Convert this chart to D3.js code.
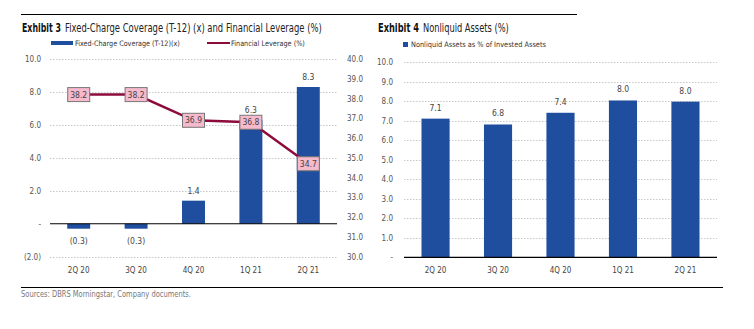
<!DOCTYPE html>
<html>
<head>
<meta charset="utf-8">
<script src="https://cdn.jsdelivr.net/npm/d3@7"></script>
<style>
  body { margin: 0; background: #fff; }
  svg text { font-family: "Liberation Sans Narrow", "DejaVu Sans Condensed", "Arial Narrow", sans-serif; }
</style>
</head>
<body>
<div id="chart"></div>
<script>
// chart data
var quarters = ["2Q 20", "3Q 20", "4Q 20", "1Q 21", "2Q 21"];
var coverage = [-0.3, -0.3, 1.4, 6.3, 8.3];
var leverage = [38.2, 38.2, 36.9, 36.8, 34.7];
var nonliquid = [7.1, 6.8, 7.4, 8.03, 7.97];
var coverageTicks = [-2, 0, 2, 4, 6, 8, 10];
var leverageTicks = [30, 31, 32, 33, 34, 35, 36, 37, 38, 39, 40];
var nonliquidTicks = [0, 1, 2, 3, 4, 5, 6, 7, 8, 9, 10];

var svgWidth = 754;
var svgHeight = 329;
var blue = "#1f4e9e";
var red = "#8c0b3b";

var fmt = d3.format(".1f");
function tickFmt(v) {
  if (v === 0) return "-";
  if (v < 0) return "(" + fmt(-v) + ")";
  return fmt(v);
}

var svg = d3.select("#chart")
  .append("svg")
  .attr("width", svgWidth)
  .attr("height", svgHeight);

// text squeezed horizontally to the width it has in the original (condensed face)
function label(x, y, w, size, str, weight, color) {
  var t = svg.append("text")
    .attr("font-size", size)
    .attr("font-weight", weight || "normal")
    .attr("fill", color || "#333")
    .text(str);
  var k = w / t.node().getComputedTextLength();
  t.attr("transform", "translate(" + x + "," + y + ") scale(" + k + ",1)");
  return t;
}

// rules top and bottom
svg.append("line").attr("x1", 21).attr("x2", 577).attr("y1", 14.5).attr("y2", 14.5)
  .attr("stroke", "#000").attr("stroke-width", 1);
svg.append("line").attr("x1", 21).attr("x2", 723).attr("y1", 287.5).attr("y2", 287.5)
  .attr("stroke", "#000").attr("stroke-width", 1);

label(21, 297, 170, 8.5, "Sources: DBRS Morningstar, Company documents.", null, "#777");

// ---------- Exhibit 3 ----------
label(22, 32, 39, 11.5, "Exhibit 3", "bold", "#111");
label(65, 32, 257, 11.5, "Fixed-Charge Coverage (T-12) (x) and Financial Leverage (%)", null, "#222");

svg.append("rect").attr("x", 51).attr("y", 41).attr("width", 22).attr("height", 4).attr("fill", blue);
label(75, 46, 105, 7.5, "Fixed-Charge Coverage (T-12)(x)");
svg.append("line").attr("x1", 207).attr("x2", 230).attr("y1", 43).attr("y2", 43)
  .attr("stroke", red).attr("stroke-width", 2);
label(231, 46, 74, 7.5, "Financial Leverage (%)");

var x1 = d3.scaleBand().domain(quarters).range([50, 337]).paddingInner(0.6).paddingOuter(0.3);
var yL = d3.scaleLinear().domain([-2, 10]).range([256.7, 59]);
var yR = d3.scaleLinear().domain([30, 40]).range([256.7, 59]);

var c1 = svg.append("g");

// gridlines
c1.selectAll(".grid").data(coverageTicks.filter(function(d) { return d !== 0; }))
  .enter().append("line")
  .attr("x1", 50).attr("x2", 337)
  .attr("y1", function(d) { return Math.round(yL(d)) + 0.5; })
  .attr("y2", function(d) { return Math.round(yL(d)) + 0.5; })
  .attr("stroke", "#c8c8c8").attr("stroke-dasharray", "1.5,1.5");

// left axis
var axL = c1.append("g").attr("transform", "translate(41,0)")
  .call(d3.axisLeft(yL).tickValues(coverageTicks).tickFormat(tickFmt).tickSize(0).tickPadding(0));
axL.select(".domain").remove();
axL.selectAll("text").attr("font-size", 8).attr("fill", "#555")
  .attr("font-family", "'Liberation Sans Narrow', 'DejaVu Sans Condensed', sans-serif");

// right axis
var axR = c1.append("g").attr("transform", "translate(347,0)")
  .call(d3.axisRight(yR).tickValues(leverageTicks).tickFormat(fmt).tickSize(0).tickPadding(0));
axR.select(".domain").remove();
axR.selectAll("text").attr("font-size", 8).attr("fill", "#555")
  .attr("font-family", "'Liberation Sans Narrow', 'DejaVu Sans Condensed', sans-serif");

// bars
c1.selectAll(".bar").data(coverage).enter().append("rect")
  .attr("x", function(d, i) { return x1(quarters[i]); })
  .attr("width", x1.bandwidth())
  .attr("y", function(d) { return yL(Math.max(0, d)); })
  .attr("height", function(d) { return Math.abs(yL(d) - yL(0)); })
  .attr("fill", blue);

c1.selectAll(".blabel").data(coverage).enter().append("text")
  .attr("x", function(d, i) { return x1(quarters[i]) + x1.bandwidth() / 2; })
  .attr("y", function(d) { return d < 0 ? yL(d) + 15 : yL(d) - 7; })
  .attr("text-anchor", "middle").attr("font-size", 8.5).attr("fill", "#444")
  .text(function(d) { return tickFmt(d); });

// zero line
c1.append("line").attr("x1", 50).attr("x2", 337).attr("y1", yL(0)).attr("y2", yL(0))
  .attr("stroke", "#000").attr("stroke-width", 1.2);

// leverage line
var line = d3.line()
  .x(function(d, i) { return x1(quarters[i]) + x1.bandwidth() / 2; })
  .y(function(d) { return yR(d); });
c1.append("path").datum(leverage).attr("d", line)
  .attr("fill", "none").attr("stroke", red).attr("stroke-width", 2.5);

var lb = c1.selectAll(".llabel").data(leverage).enter().append("g")
  .attr("transform", function(d, i) {
    return "translate(" + (x1(quarters[i]) + x1.bandwidth() / 2) + "," + yR(d) + ")";
  });
lb.append("rect").attr("x", -11).attr("y", -7).attr("width", 22).attr("height", 14)
  .attr("fill", "#f7b9cc").attr("stroke", "#777").attr("stroke-width", 1);
lb.append("text").attr("y", 3).attr("text-anchor", "middle")
  .attr("font-size", 8.5).attr("fill", "#444").text(function(d) { return fmt(d); });

// categories
c1.selectAll(".cat").data(quarters).enter().append("text")
  .attr("x", function(d) { return x1(d) + x1.bandwidth() / 2; })
  .attr("y", 273).attr("text-anchor", "middle").attr("font-size", 8).attr("fill", "#444")
  .text(function(d) { return d; });

// ---------- Exhibit 4 ----------
label(378, 32, 41, 11.5, "Exhibit 4", "bold", "#111");
label(423, 32, 86, 11.5, "Nonliquid Assets (%)", null, "#222");

svg.append("rect").attr("x", 403).attr("y", 42).attr("width", 5).attr("height", 5).attr("fill", blue);
label(411, 47, 135, 7.5, "Nonliquid Assets as % of Invested Assets");

var x2 = d3.scaleBand().domain(quarters).range([404, 717]).paddingInner(0.55).paddingOuter(0.28);
var y2 = d3.scaleLinear().domain([0, 10]).range([257.3, 62]);

var c2 = svg.append("g");

c2.selectAll(".grid").data(nonliquidTicks.filter(function(d) { return d !== 0; }))
  .enter().append("line")
  .attr("x1", 404).attr("x2", 717)
  .attr("y1", function(d) { return Math.round(y2(d)) + 0.5; })
  .attr("y2", function(d) { return Math.round(y2(d)) + 0.5; })
  .attr("stroke", "#c8c8c8").attr("stroke-dasharray", "1.5,1.5");

var ax2 = c2.append("g").attr("transform", "translate(393,0)")
  .call(d3.axisLeft(y2).tickValues(nonliquidTicks).tickFormat(tickFmt).tickSize(0).tickPadding(0));
ax2.select(".domain").remove();
ax2.selectAll("text").attr("font-size", 8).attr("fill", "#555")
  .attr("font-family", "'Liberation Sans Narrow', 'DejaVu Sans Condensed', sans-serif");

c2.selectAll(".bar").data(nonliquid).enter().append("rect")
  .attr("x", function(d, i) { return x2(quarters[i]); })
  .attr("width", x2.bandwidth())
  .attr("y", function(d) { return y2(d); })
  .attr("height", function(d) { return y2(0) - y2(d); })
  .attr("fill", blue);

c2.selectAll(".blabel").data(nonliquid).enter().append("text")
  .attr("x", function(d, i) { return x2(quarters[i]) + x2.bandwidth() / 2; })
  .attr("y", function(d) { return y2(d) - 8; })
  .attr("text-anchor", "middle").attr("font-size", 8.5).attr("fill", "#444")
  .text(function(d) { return fmt(d); });

c2.append("line").attr("x1", 404).attr("x2", 717).attr("y1", y2(0)).attr("y2", y2(0))
  .attr("stroke", "#000").attr("stroke-width", 1.2);

c2.selectAll(".cat").data(quarters).enter().append("text")
  .attr("x", function(d) { return x2(d) + x2.bandwidth() / 2; })
  .attr("y", 273).attr("text-anchor", "middle").attr("font-size", 8).attr("fill", "#444")
  .text(function(d) { return d; });
</script>
</body>
</html>
